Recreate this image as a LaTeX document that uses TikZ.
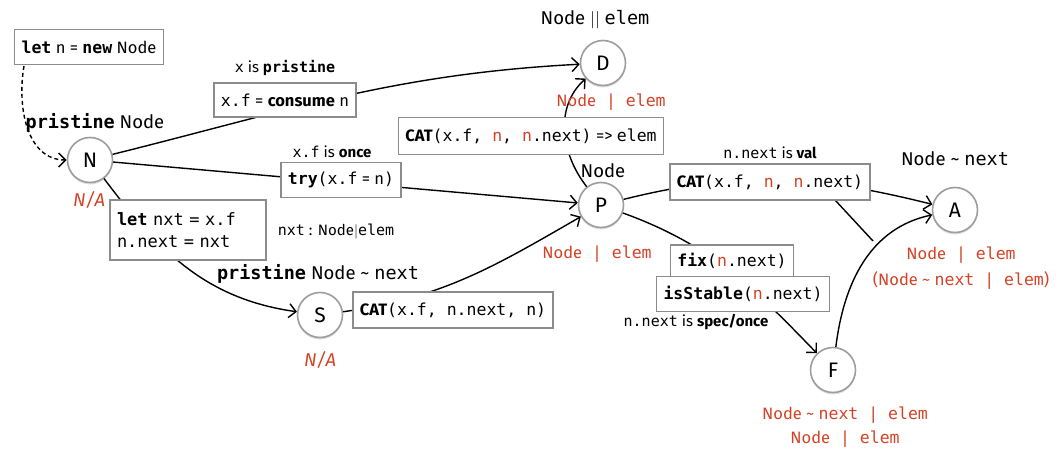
\documentclass[tikz,border=0pt]{standalone}
\usepackage{fontspec}
\setmainfont{Fira Sans}
\newfontfamily\mono{DejaVu Sans Mono}
\usetikzlibrary{arrows.meta,shadows}
\definecolor{myred}{RGB}{212,66,38}
\definecolor{boxgray}{RGB}{140,140,140}
\newcommand{\fs}[1]{\fontsize{#1}{#1}\selectfont}
\newcommand{\mt}[1]{{\mono #1}}
\newcommand{\mb}[1]{{\mono\bfseries #1}}
\newcommand{\rn}[1]{{\color{myred}#1}}
\tikzset{
  st/.style={circle, draw=boxgray!85, line width=1.6pt, fill=white, minimum size=45pt, inner sep=0pt,
    font=\fs{21}, drop shadow={opacity=0.25, shadow xshift=0pt, shadow yshift=-2pt}},
  bx/.style={draw=boxgray, line width=1.5pt, fill=white, inner xsep=7pt, inner ysep=4pt, minimum height=35pt, font=\fs{16.5}},
  lab/.style={inner sep=0pt, font=\fs{18.5}},
  slab/.style={inner sep=0pt, font=\fs{15}},
  rlab/.style={inner sep=0pt, font=\fs{16.5}, text=myred, align=center},
  edge/.style={line width=1.4pt, black},
  tip/.style={-{Straight Barb[length=7pt,width=14pt,line width=1.4pt]}},
  arr/.style={edge, tip},
}
\begin{document}
\begin{tikzpicture}[x=1pt,y=1pt]
\useasboundingbox (0,0) rectangle (1064,-454);
% states
\node[st] (N) at (90,-160) {N};
\node[st] (D) at (603,-63) {D};
\node[st] (P) at (601,-205) {P};
\node[st] (S) at (320,-315) {S};
\node[st] (A) at (955,-210) {A};
\node[st] (F) at (833,-370) {F};
% connectors
\coordinate (letout) at (24,-66);
\draw[edge, dash pattern=on 4pt off 3pt, tip] (letout) to[out=-100, in=180] (N);
\draw[arr] (N) to[out=14, in=183] (D);
\draw[arr] (N) -- (P);
\draw[arr] (N) to[out=-53, in=172] (S);
\draw[arr] (S) to[out=8, in=210] (P);
\draw[arr] (P) to[out=128, in=222] (D);
\draw[arr] (P) to[out=14, in=166] (A);
\draw[arr] (P) to[out=-20, in=134] (F);
\draw[arr] (F) to[out=83, in=192] (A);
\coordinate (valfoot) at (835,-200);
\coordinate (join) at (873,-241);
\draw[edge] (valfoot) -- (join);
% boxes
\node[bx] (letn) at (89,-47) {\mb{let} n = \textbf{\mono new} Node};
\node[bx, minimum height=34pt] (cons) at (285,-100) {\mt{x.f} = \textbf{consume} n};
\node[bx] (try) at (341,-180) {\mb{try}\mt{(x.f} = n\mt{)}};
\node[bx, align=left, text width=142pt, inner ysep=6pt, minimum height=60pt] (letnxt) at (188,-230) {\fs{17}\mono{\bfseries let} nxt = x.f\\[5pt]n.next = nxt};
\node[bx, minimum height=36pt] (scat) at (453,-310) {\textbf{CAT}\mt{(x.f, n.next, n)}};
\node[bx, minimum height=37pt] (dcat) at (531,-136) {\textbf{CAT}\mt{(x.f, \rn{n}, \rn{n}.next)} => \mt{elem}};
\node[bx, minimum height=36pt] (vcat) at (770,-182) {\textbf{CAT}\mt{(x.f, \rn{n}, \rn{n}.next)}};
\node[bx, minimum height=32pt] (fix) at (732,-261) {\mb{fix}\mt{(\rn{n}.next)}};
\node[bx] (stab) at (743,-294) {\mb{isStable}\mt{(\rn{n}.next)}};
% labels
\node[lab] (Nlab) at (95,-123) {\mb{pristine} Node};
\node[rlab, font=\fs{18.5}] (Nna) at (89,-200) {\itshape N/A};
\node[slab] (conslab) at (285,-68) {\mt{x} is \mb{pristine}};
\node[slab] (trylab) at (332,-152) {\mt{x.f} is \textbf{once}};
\node[slab] (nxtlab) at (336,-232) {\mt{nxt} : Node$|$\mt{elem}};
\node[lab] (Slab) at (318,-274) {\mb{pristine} Node \textasciitilde{} \mt{next}};
\node[rlab, font=\fs{18.5}] (Sna) at (320,-360) {\itshape N/A};
\node[lab] (Dlab) at (595,-20) {Node $||$ \mt{elem}};
\node[rlab] (Dred) at (611,-102) {Node\mt{ | }\mt{elem}};
\node[lab] (Plab) at (603,-171) {Node};
\node[rlab] (Pred) at (597,-254) {Node\mt{ | }\mt{elem}};
\node[slab] (vlab) at (770,-153) {\mt{n.next} is \textbf{val}};
\node[lab] (Alab) at (955,-159) {Node \textasciitilde{} \mt{next}};
\node[rlab] (Ared) at (961,-268) {Node\mt{ | }\mt{elem}\\[7pt](Node \textasciitilde{} \mt{next}\mt{ | }\mt{elem})};
\node[slab] (flab) at (696,-322) {\mt{n.next} is \textbf{spec/once}};
\node[rlab] (Fred) at (845,-427) {Node \textasciitilde{} \mt{next}\mt{ | }\mt{elem}\\[7pt]Node\mt{ | }\mt{elem}};
\end{tikzpicture}
\end{document}
